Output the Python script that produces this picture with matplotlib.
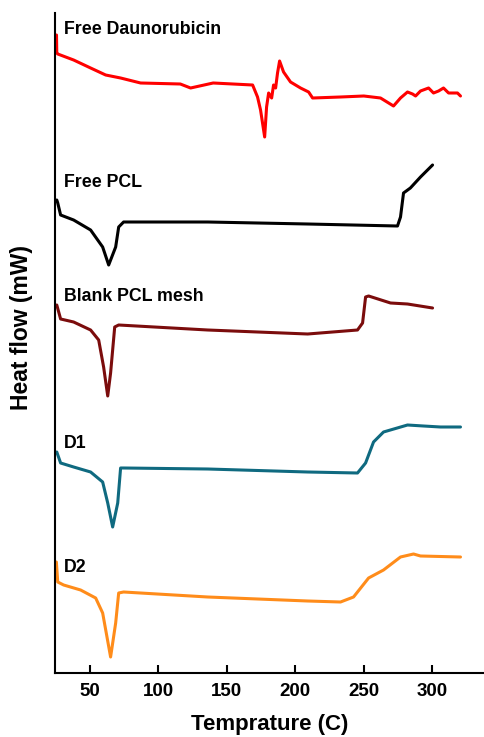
import matplotlib
matplotlib.use("Agg")
import matplotlib.pyplot as plt

plt.rcParams['font.family'] = ['Liberation Sans', 'DejaVu Sans']

# Temperatures (C) and heat flow (arbitrary units, offset per curve)
t_dauno = [25.6, 25.8, 26.5, 38.1, 50.5, 61.5, 72.4, 87, 116, 123.5, 140, 168.8, 172.4, 174.6,
           177.6, 179, 180.5, 182.7, 184.1, 185.6, 187, 188.5, 191.4, 196.5, 203.8, 209.7, 212.6,
           233, 250, 262.2, 271.7, 276.8, 281.9, 285.6, 287.8, 291.4, 297.3, 300.9, 304.6, 308.2,
           311.9, 314.8, 318.4, 320.6]
hf_dauno = [638, 620, 619, 613, 605, 598, 595, 590, 589, 585, 590, 588, 576, 563,
            536, 566, 580, 575, 588, 585, 600, 612, 601, 591, 585, 581, 575,
            576, 577, 575, 567, 575, 581, 579, 577, 582, 585, 580, 582, 585,
            580, 580, 580, 577]

t_pcl = [25.8, 26.5, 28.6, 38.1, 50.5, 59.3, 63.7, 68.8, 71, 74.6, 136, 209, 274.6, 276.8,
         279, 284, 291.4, 300.2]
hf_pcl = [473, 470, 458, 453, 443, 426, 408, 426, 446, 451, 451, 449, 447, 456,
          480, 485, 496, 508]

t_blank = [25.8, 28.6, 38.1, 50.5, 56.4, 60, 63, 65.1, 68.1, 71, 136, 209, 245.4, 249.1,
           251.3, 253.5, 269.5, 281.9, 300.2]
hf_blank = [368, 354, 351, 343, 333, 306, 277, 300, 346, 348, 343, 339, 343, 350,
            376, 377, 370, 369, 365]

t_d1 = [25.8, 28.6, 38.1, 50.5, 59.3, 63, 66.6, 70.3, 72.4, 74.6, 136, 209, 245.4, 251.3,
        257.1, 264.4, 281.9, 293.6, 306, 320.6]
hf_d1 = [221, 210, 206, 201, 191, 170, 146, 170, 205, 205, 204, 201, 200, 210,
         231, 241, 248, 247, 246, 246]

t_d2 = [25.5, 26.5, 30.8, 43.2, 54.2, 59.3, 65.1, 68.8, 71, 74.6, 136, 209, 233, 242.5,
        253.5, 264.4, 276.8, 286.3, 291.4, 320.6]
hf_d2 = [111, 91, 88, 83, 75, 60, 16, 50, 80, 81, 76, 72, 71, 76,
         95, 103, 116, 119, 117, 116]

labels = ["Free Daunorubicin", "Free PCL", "Blank PCL mesh", "D1", "D2"]
label_y = [643, 490, 376, 229, 106]
colors = ["#ff0000", "#000000", "#7b0c0c", "#0f6a80", "#ff8c1a"]
xticks = [50, 100, 150, 200, 250, 300]

fig = plt.figure(figsize=(4.85, 7.37), dpi=100)
ax = fig.add_axes([55/485, 1 - 673/737, 430/485, 660/737])

series = [(t_dauno, hf_dauno), (t_pcl, hf_pcl), (t_blank, hf_blank), (t_d1, hf_d1), (t_d2, hf_d2)]
for (t, hf), c in zip(series, colors):
    ax.plot(t, hf, color=c, lw=2.2, solid_joinstyle='round', solid_capstyle='round')

for lab, ly in zip(labels, label_y):
    ax.text(31.0, ly, lab, fontsize=12.8, fontweight='bold', va='center', ha='left')

ax.set_xlim(24.5, 338.5)
ax.set_ylim(0, 660)
ax.set_xticks(xticks)
ax.set_xticklabels([str(v) for v in xticks], fontsize=13.5, fontweight='bold')
ax.set_yticks([])
ax.tick_params(axis='x', direction='in', length=6, width=1.5, pad=7)
for s in ['top', 'right']:
    ax.spines[s].set_visible(False)
for s in ['left', 'bottom']:
    ax.spines[s].set_linewidth(1.5)
ax.set_xlabel("Temprature (C)", fontsize=16, fontweight='bold', labelpad=10)
ax.set_ylabel("Heat flow (mW)", fontsize=16.5, fontweight='bold')
ax.yaxis.set_label_coords(-0.050, 0.523)

fig.savefig("out.png", dpi=100)
